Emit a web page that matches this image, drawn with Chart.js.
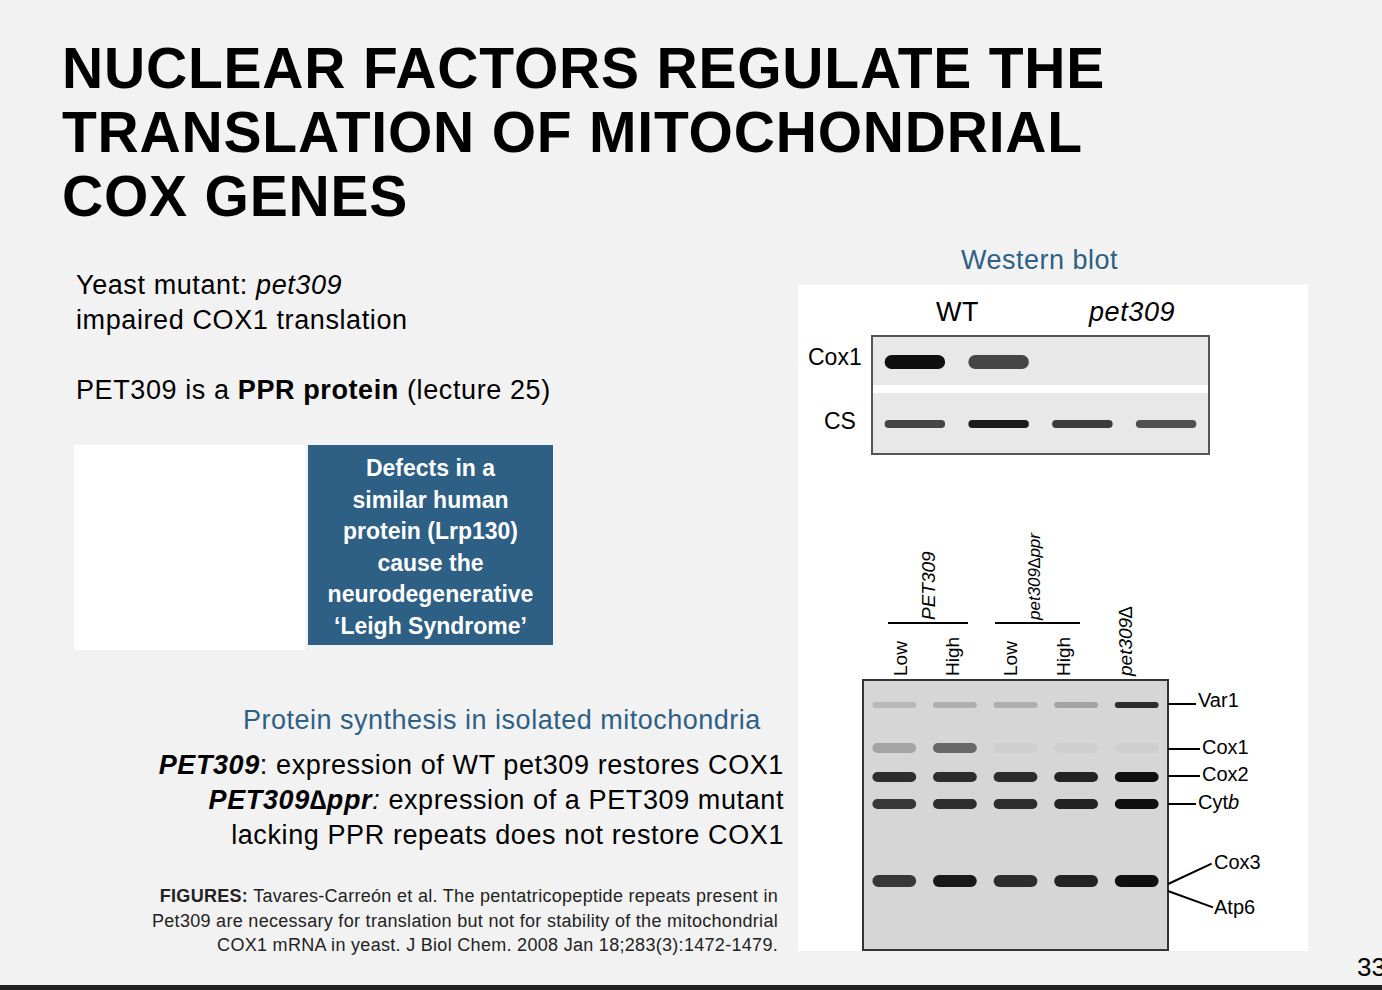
<!DOCTYPE html>
<html><head><meta charset="utf-8">
<script src="https://cdn.jsdelivr.net/npm/chart.js@4"></script>
<style>
body{margin:0;width:1382px;height:990px;background:#f2f2f2;font-family:"Liberation Sans",Arial,sans-serif;position:relative;overflow:hidden}
.a{position:absolute}
h1{position:absolute;left:62px;top:36px;margin:0;font-size:57px;line-height:64px;font-weight:bold;color:#000;letter-spacing:0.8px}
.t{font-size:27px;color:#000;letter-spacing:0.6px}
.blue{color:#2e5f85;letter-spacing:0.5px}
.rot{position:absolute;transform:rotate(-90deg);transform-origin:left top;font-size:19px;white-space:nowrap}
.ln{position:absolute;background:#000}
</style></head><body>
<h1>NUCLEAR FACTORS REGULATE THE<br>TRANSLATION OF MITOCHONDRIAL<br>COX GENES</h1>
<div class="a t" style="left:76px;top:268px;line-height:35px">Yeast mutant: <i>pet309</i><br>impaired COX1 translation</div>
<div class="a t" style="left:76px;top:375px">PET309 is a <b>PPR protein</b> (lecture 25)</div>
<div class="a" style="left:74px;top:445px;width:231px;height:205px;background:#fff"></div>
<div class="a" style="left:308px;top:445px;width:245px;height:200px;background:#2e5f85;color:#fff;font-weight:bold;font-size:23px;line-height:31.5px;text-align:center;padding-top:8px;box-sizing:border-box">Defects in a<br>similar human<br>protein (Lrp130)<br>cause the<br>neurodegenerative<br>‘Leigh Syndrome’</div>
<div class="a blue" style="left:243px;top:705px;font-size:27px">Protein synthesis in isolated mitochondria</div>
<div class="a t" style="right:598px;top:748px;text-align:right;line-height:35px"><b><i>PET309</i></b>: expression of WT pet309 restores COX1<br><b><i>PET309∆ppr</i></b><i>:</i> expression of a PET309 mutant<br>lacking PPR repeats does not restore COX1</div>
<div class="a" style="right:604px;top:884px;text-align:right;font-size:18px;line-height:24.5px;color:#222;letter-spacing:0.3px"><b>FIGURES:</b> Tavares-Carreón et al. The pentatricopeptide repeats present in<br>Pet309 are necessary for translation but not for stability of the mitochondrial<br>COX1 mRNA in yeast. J Biol Chem. 2008 Jan 18;283(3):1472-1479.</div>
<div class="a blue" style="left:961px;top:245px;font-size:27px">Western blot</div>
<div class="a" style="left:798px;top:285px;width:510px;height:666px;background:#fff"></div>
<div class="a t" style="left:936px;top:297px">WT</div>
<div class="a t" style="left:1089px;top:297px"><i>pet309</i></div>
<div class="a" style="left:808px;top:344px;font-size:23px">Cox1</div>
<div class="a" style="left:824px;top:408px;font-size:23px">CS</div>
<div class="a" style="left:871px;top:335px;width:335px;height:116px;border:2px solid #555;background:#e8e8e8"></div>
<div class="a" style="left:873px;top:385px;width:335px;height:8px;background:#fff"></div>
<div class="a" style="left:873px;top:337px;width:335px;height:116px"><canvas id="wb"></canvas></div>
<div class="a" style="left:862px;top:679px;width:303px;height:268px;border:2px solid #333;background:#d6d6d6"></div>
<div class="a" style="left:864px;top:681px;width:303px;height:268px"><canvas id="gel"></canvas></div>
<div class="rot" style="left:890px;top:676px">Low</div>
<div class="rot" style="left:942px;top:676px">High</div>
<div class="rot" style="left:1000px;top:676px">Low</div>
<div class="rot" style="left:1053px;top:676px">High</div>
<div class="rot" style="left:1115px;top:676px;font-style:italic">pet309∆</div>
<div class="rot" style="left:918px;top:620px;font-style:italic">PET309</div>
<div class="rot" style="left:1025px;top:620px;font-style:italic;font-size:17px">pet309∆ppr</div>
<div class="ln" style="left:888px;top:622px;width:80px;height:1.5px"></div>
<div class="ln" style="left:995px;top:622px;width:85px;height:1.5px"></div>
<div class="a" style="left:1198px;top:689px;font-size:20px">Var1</div>
<div class="a" style="left:1202px;top:736px;font-size:20px">Cox1</div>
<div class="a" style="left:1202px;top:763px;font-size:20px">Cox2</div>
<div class="a" style="left:1198px;top:791px;font-size:20px">Cyt<i>b</i></div>
<div class="a" style="left:1214px;top:851px;font-size:20px">Cox3</div>
<div class="a" style="left:1214px;top:896px;font-size:20px">Atp6</div>
<div class="ln" style="left:1168px;top:703px;width:28px;height:1.5px"></div>
<div class="ln" style="left:1168px;top:748px;width:32px;height:1.5px"></div>
<div class="ln" style="left:1168px;top:775px;width:32px;height:1.5px"></div>
<div class="ln" style="left:1168px;top:803px;width:28px;height:1.5px"></div>
<div class="ln" style="left:1168px;top:883px;width:48px;height:1.5px;transform:rotate(-25deg);transform-origin:left"></div>
<div class="ln" style="left:1168px;top:890px;width:48px;height:1.5px;transform:rotate(20deg);transform-origin:left"></div>
<div class="a" style="left:1357px;top:952px;font-size:26px">33</div>
<div class="a" style="left:0;top:985px;width:1382px;height:5px;background:#222"></div>
<script>
// Western blot data
const wbLanes = ["WT-1","WT-2","pet309-1","pet309-2"];
const wbRows = ["Cox1","CS"];
const wbRowPos = [25, 87];
const wbCox1 = [1.0, 0.75, 0.0, 0.0];
const wbCS = [0.75, 0.95, 0.8, 0.7];
// Gel data
const gelLanes = ["PET309 Low","PET309 High","pet309Δppr Low","pet309Δppr High","pet309Δ"];
const bandNames = ["Var1","Cox1","Cox2","Cytb","Cox3/Atp6"];
const bandPos = [24, 67, 96, 123, 200];
const gVar1 = [0.15, 0.2, 0.2, 0.25, 0.85];
const gCox1 = [0.25, 0.55, 0.03, 0.03, 0.03];
const gCox2 = [0.85, 0.85, 0.85, 0.9, 1.0];
const gCytb = [0.8, 0.85, 0.85, 0.9, 1.0];
const gCox3 = [0.8, 0.95, 0.85, 0.9, 1.0];

function ds(vals, pos, h){
  return {data: vals.map(()=>[pos-h,pos+h]),
    backgroundColor: vals.map(v=>`rgba(15,15,15,${v})`),
    borderRadius: 20, borderSkipped:false, categoryPercentage:0.85, barPercentage:0.85, grouped:false};
}
const common = {responsive:true,maintainAspectRatio:false,animation:false,
  plugins:{legend:{display:false},tooltip:{enabled:false}},layout:{padding:0}};
new Chart(document.getElementById('wb'),{type:'bar',
  data:{labels:wbLanes,datasets:[ds(wbCox1,wbRowPos[0],7),ds(wbCS,wbRowPos[1],4)]},
  options:{...common,scales:{x:{display:false},y:{display:false,min:0,max:116,reverse:true}}}});
const gds=[ds(gVar1,bandPos[0],3),ds(gCox1,bandPos[1],5),ds(gCox2,bandPos[2],5),ds(gCytb,bandPos[3],5),ds(gCox3,bandPos[4],6)];
new Chart(document.getElementById('gel'),{type:'bar',
  data:{labels:gelLanes,datasets:gds},
  options:{...common,scales:{x:{display:false},y:{display:false,min:0,max:268,reverse:true}}}});
</script>
</body></html>
